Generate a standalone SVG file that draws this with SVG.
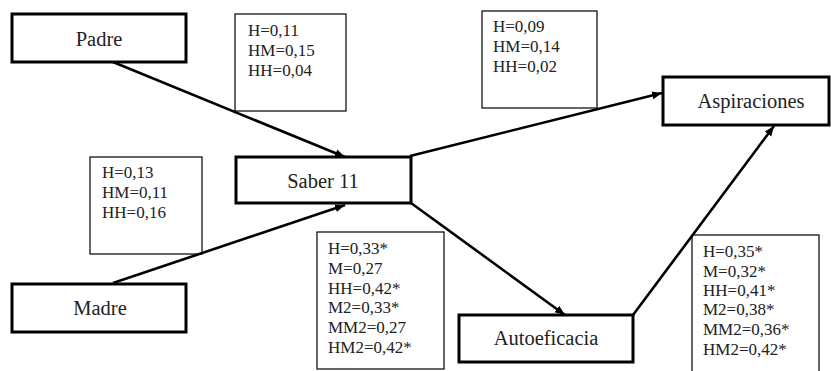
<svg xmlns="http://www.w3.org/2000/svg" width="831" height="371" viewBox="0 0 831 371">
<style>
.node rect{fill:#fff;stroke:#000;stroke-width:3}
.node text{font-family:"Liberation Serif","Times New Roman",serif;font-size:20.5px;text-anchor:middle;fill:#222}
.coef rect{fill:#fff;stroke:#000;stroke-width:1.2}
.coef text{font-family:"Liberation Serif","Times New Roman",serif;font-size:17px;fill:#222}
.edge{stroke:#000;stroke-width:2.6;fill:none;marker-end:url(#ah)}
</style>
<defs>
<marker id="ah" markerUnits="userSpaceOnUse" markerWidth="12" markerHeight="10" refX="10" refY="5" orient="auto">
<path d="M0,1 L10,5 L0,9 Z" fill="#000"/>
</marker>
</defs>
<rect width="831" height="371" fill="#fff"/>
<g id="coef-padre" class="coef">
<rect x="235" y="14" width="111" height="97"/>
<text x="248" y="36">H=0,11</text>
<text x="248" y="56">HM=0,15</text>
<text x="248" y="76">HH=0,04</text>
</g>
<g id="coef-madre" class="coef">
<rect x="90" y="157" width="112" height="97"/>
<text x="102" y="178">H=0,13</text>
<text x="102" y="198">HM=0,11</text>
<text x="102" y="218">HH=0,16</text>
</g>
<g id="coef-aspir" class="coef">
<rect x="482" y="11" width="115" height="97"/>
<text x="493" y="32">H=0,09</text>
<text x="493" y="52">HM=0,14</text>
<text x="493" y="72">HH=0,02</text>
</g>
<g id="coef-autoef" class="coef">
<rect x="317" y="232" width="127" height="137"/>
<text x="328" y="254">H=0,33*</text>
<text x="328" y="274">M=0,27</text>
<text x="328" y="294">HH=0,42*</text>
<text x="328" y="313">M2=0,33*</text>
<text x="328" y="333">MM2=0,27</text>
<text x="328" y="353">HM2=0,42*</text>
</g>
<g id="coef-autoef-aspir" class="coef">
<rect x="692" y="235" width="127" height="140"/>
<text x="703" y="257">H=0,35*</text>
<text x="703" y="277">M=0,32*</text>
<text x="703" y="296">HH=0,41*</text>
<text x="703" y="315">M2=0,38*</text>
<text x="703" y="335">MM2=0,36*</text>
<text x="703" y="355">HM2=0,42*</text>
</g>
<g id="connectors">
<line class="edge" x1="113" y1="62" x2="345" y2="157"/>
<line class="edge" x1="113" y1="283" x2="345" y2="205"/>
<line class="edge" x1="410" y1="156" x2="662" y2="93"/>
<line class="edge" x1="411" y1="203" x2="565" y2="315"/>
<line class="edge" x1="633" y1="315" x2="774" y2="126"/>
</g>
<g id="padre" class="node">
<rect x="12" y="14" width="174" height="48"/>
<text x="99" y="46">Padre</text>
</g>
<g id="madre" class="node">
<rect x="12" y="284" width="174" height="48"/>
<text x="100" y="315">Madre</text>
</g>
<g id="saber" class="node">
<rect x="236" y="157" width="175" height="46"/>
<text x="323" y="188">Saber 11</text>
</g>
<g id="autoeficacia" class="node">
<rect x="459" y="315" width="174" height="47"/>
<text x="546" y="345">Autoeficacia</text>
</g>
<g id="aspiraciones" class="node">
<rect x="663" y="77" width="166" height="48"/>
<text x="751" y="108">Aspiraciones</text>
</g>
</svg>
